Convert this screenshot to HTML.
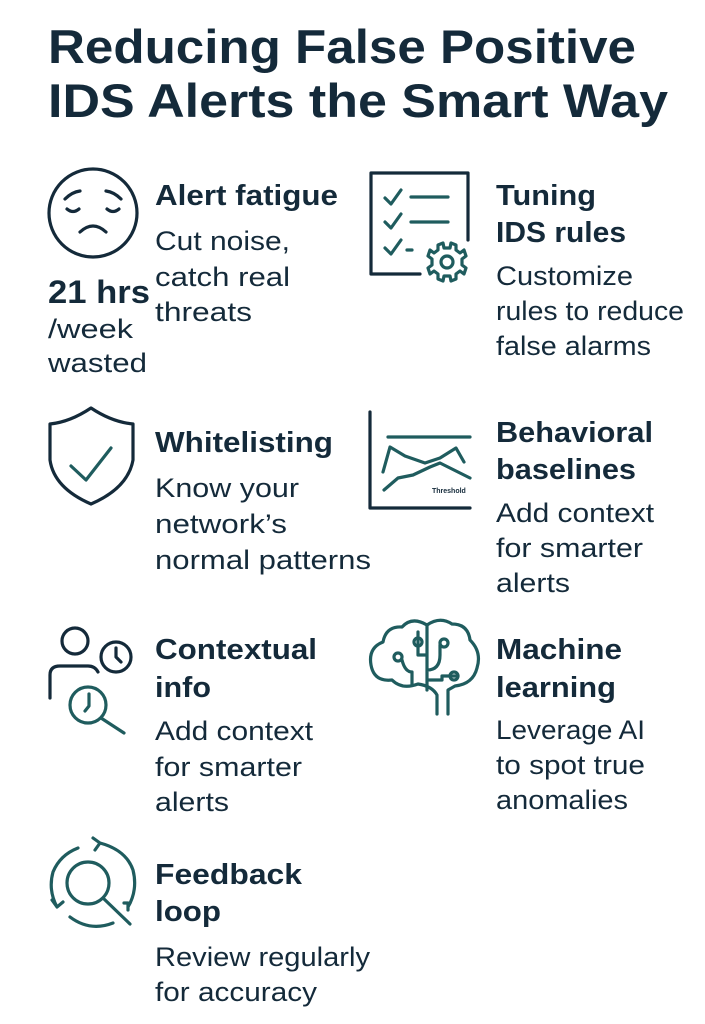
<!DOCTYPE html>
<html><head><meta charset="utf-8"><style>
html,body{margin:0;padding:0;background:#fff;}
svg{display:block;}
text{font-family:"Liberation Sans",sans-serif;fill:#142a3a;}
.t{font-size:47px;font-weight:bold;}
.h{font-size:29px;font-weight:bold;}
.b{font-size:27px;}
.n{fill:none;stroke:#142a3a;stroke-width:3.2;stroke-linecap:round;stroke-linejoin:round;}
.g{fill:none;stroke:#1f5c5e;stroke-width:3.2;stroke-linecap:round;stroke-linejoin:round;}
</style></head><body>
<svg width="705" height="1024" viewBox="0 0 705 1024" xmlns="http://www.w3.org/2000/svg">
<text class="t" x="48" y="63" textLength="588" lengthAdjust="spacingAndGlyphs">Reducing False Positive</text>
<text class="t" x="48" y="117" textLength="620" lengthAdjust="spacingAndGlyphs">IDS Alerts the Smart Way</text>

<!-- face -->
<circle class="n" cx="93" cy="213" r="44"/>
<path class="n" d="M65 199 Q72 192 80 191 M121 199 Q114 192 106 191 M67 209 Q73 214 79 209 M107 209 Q113 214 119 209 M80 232 Q93 220 106 232"/>
<text class="h" x="155" y="205" textLength="183" lengthAdjust="spacingAndGlyphs">Alert fatigue</text>
<text class="b" x="155" y="250" textLength="135" lengthAdjust="spacingAndGlyphs">Cut noise,</text>
<text class="b" x="155" y="286" textLength="135" lengthAdjust="spacingAndGlyphs">catch real</text>
<text class="b" x="155" y="321" textLength="97" lengthAdjust="spacingAndGlyphs">threats</text>
<text class="h" x="48" y="303" style="font-size:32px" textLength="102" lengthAdjust="spacingAndGlyphs">21 hrs</text>
<text class="b" x="48" y="338" textLength="85" lengthAdjust="spacingAndGlyphs">/week</text>
<text class="b" x="48" y="372" textLength="99" lengthAdjust="spacingAndGlyphs">wasted</text>

<!-- checklist -->
<path class="n" d="M420 274 H371 V173 H468 V240"/>
<path class="g" d="M385 198 L391 204 L401 190 M411 197 H448 M385 222 L391 228 L401 214 M411 222 H448 M385 248 L391 254 L401 240 M407 250 H412"/>
<g transform="translate(447,262)">
<circle class="g" r="6"/>
<path class="g" d="M-4 -19 L-3 -14 L3 -14 L4 -19 L9 -17 L9 -12 L13 -9 L17 -12 L19 -6 L15 -3 L15 3 L19 6 L17 12 L13 9 L9 12 L9 17 L4 19 L3 14 L-3 14 L-4 19 L-9 17 L-9 12 L-13 9 L-17 12 L-19 6 L-15 3 L-15 -3 L-19 -6 L-17 -12 L-13 -9 L-9 -12 L-9 -17 Z"/>
</g>
<text class="h" x="496" y="205" textLength="100" lengthAdjust="spacingAndGlyphs">Tuning</text>
<text class="h" x="496" y="242" textLength="130" lengthAdjust="spacingAndGlyphs">IDS rules</text>
<text class="b" x="496" y="285" textLength="137" lengthAdjust="spacingAndGlyphs">Customize</text>
<text class="b" x="496" y="320" textLength="188" lengthAdjust="spacingAndGlyphs">rules to reduce</text>
<text class="b" x="496" y="355" textLength="155" lengthAdjust="spacingAndGlyphs">false alarms</text>

<!-- shield -->
<path class="n" d="M91 408 Q70 422 50 424 V460 Q54 488 91 504 Q128 488 133 460 V424 Q112 422 91 408 Z"/>
<path class="g" d="M71 466 L86 480 L111 448"/>
<text class="h" x="155" y="452" textLength="178" lengthAdjust="spacingAndGlyphs">Whitelisting</text>
<text class="b" x="155" y="497" textLength="144" lengthAdjust="spacingAndGlyphs">Know your</text>
<text class="b" x="155" y="533" textLength="132" lengthAdjust="spacingAndGlyphs">network’s</text>
<text class="b" x="155" y="569" textLength="216" lengthAdjust="spacingAndGlyphs">normal patterns</text>

<!-- chart -->
<path class="n" d="M370 412 V508 H470"/>
<path class="g" d="M388 437 H470 M383 472 L390 447 L405 456 L425 463 L440 458 L456 448 L464 462 M384 490 L398 478 L413 475 L430 467 L440 463 L470 478"/>
<text x="432" y="493" style="font-size:7px;font-weight:bold">Threshold</text>
<text class="h" x="496" y="442" textLength="157" lengthAdjust="spacingAndGlyphs">Behavioral</text>
<text class="h" x="496" y="479" textLength="140" lengthAdjust="spacingAndGlyphs">baselines</text>
<text class="b" x="496" y="522" textLength="158" lengthAdjust="spacingAndGlyphs">Add context</text>
<text class="b" x="496" y="557" textLength="147" lengthAdjust="spacingAndGlyphs">for smarter</text>
<text class="b" x="496" y="592" textLength="74" lengthAdjust="spacingAndGlyphs">alerts</text>

<!-- contextual -->
<circle class="n" cx="75" cy="641" r="13"/>
<path class="n" d="M50 698 V675 Q50 666 60 666 H88 Q95 666 98 672"/>
<circle class="n" cx="116" cy="657" r="15"/>
<path class="n" d="M116 648 V657 L121 662"/>
<circle class="g" cx="88" cy="705" r="18"/>
<path class="g" d="M89 694 V706 L85 711 M101 718 L124 733"/>
<text class="h" x="155" y="659" textLength="162" lengthAdjust="spacingAndGlyphs">Contextual</text>
<text class="h" x="155" y="697" textLength="56" lengthAdjust="spacingAndGlyphs">info</text>
<text class="b" x="155" y="740" textLength="158" lengthAdjust="spacingAndGlyphs">Add context</text>
<text class="b" x="155" y="776" textLength="147" lengthAdjust="spacingAndGlyphs">for smarter</text>
<text class="b" x="155" y="811" textLength="74" lengthAdjust="spacingAndGlyphs">alerts</text>

<!-- brain -->
<path class="g" d="M427 625 Q412 616 402 627 Q386 626 383 642 Q368 648 371 665 Q374 682 392 680 Q402 690 418 684 Q432 686 437 695 V714"/>
<path class="g" d="M427 625 Q440 616 452 624 Q468 624 470 640 Q482 652 477 668 Q473 684 455 686 L448 690 V714"/>
<path class="g" d="M427 625 V690 M427 655 H418 V632 M427 670 Q440 670 440 655 V645 M427 680 H442 V676 H458 M412 684 V672 Q405 672 402 660"/>
<circle class="g" cx="418" cy="642" r="4"/>
<circle class="g" cx="398" cy="657" r="4"/>
<circle class="g" cx="444" cy="643" r="4"/>
<circle class="g" cx="454" cy="676" r="4"/>
<text class="h" x="496" y="659" textLength="126" lengthAdjust="spacingAndGlyphs">Machine</text>
<text class="h" x="496" y="697" textLength="120" lengthAdjust="spacingAndGlyphs">learning</text>
<text class="b" x="496" y="739" textLength="149" lengthAdjust="spacingAndGlyphs">Leverage AI</text>
<text class="b" x="496" y="774" textLength="149" lengthAdjust="spacingAndGlyphs">to spot true</text>
<text class="b" x="496" y="809" textLength="132" lengthAdjust="spacingAndGlyphs">anomalies</text>

<!-- feedback -->
<path class="g" d="M78 848 Q60 855 53 872 Q48 890 57 907 M70 917 Q90 932 113 923 M128 907 Q138 890 133 870 Q126 850 100 843 M100 843 L93 838 M100 843 L95 850 M57 907 L52 900 M57 907 L63 902 M124 903 H128 V910"/>
<circle class="g" cx="88" cy="883" r="21"/>
<path class="g" d="M103 898 L130 924"/>
<text class="h" x="155" y="884" textLength="147" lengthAdjust="spacingAndGlyphs">Feedback</text>
<text class="h" x="155" y="921" textLength="66" lengthAdjust="spacingAndGlyphs">loop</text>
<text class="b" x="155" y="966" textLength="215" lengthAdjust="spacingAndGlyphs">Review regularly</text>
<text class="b" x="155" y="1001" textLength="162" lengthAdjust="spacingAndGlyphs">for accuracy</text>
</svg>
</body></html>
